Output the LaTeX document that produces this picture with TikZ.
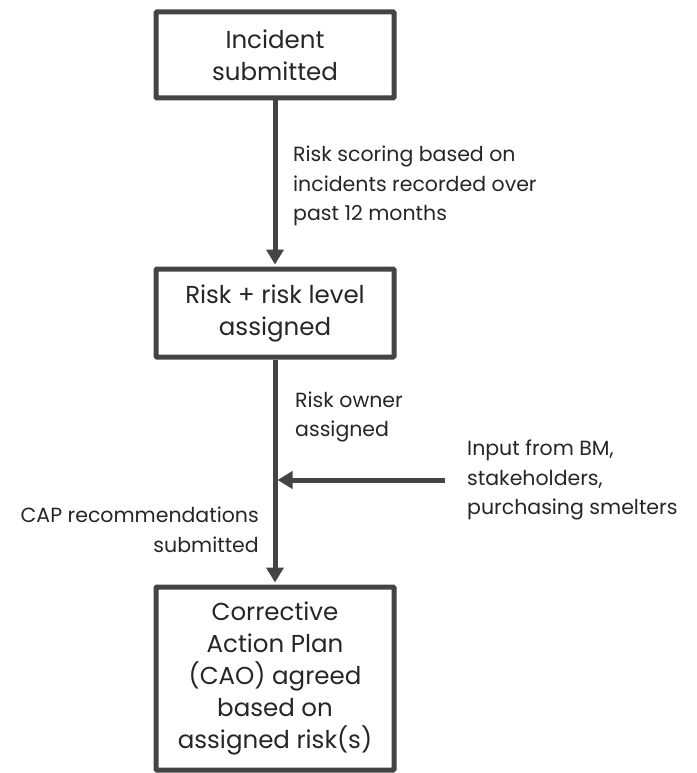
\documentclass[tikz,border=0pt]{standalone}
\usepackage{fontspec}
\setmainfont{Poppins}
\usepackage{tikz}
\usetikzlibrary{arrows.meta,positioning,calc}
\usepackage{xcolor}
\definecolor{linegray}{HTML}{444444}
\definecolor{textgray}{HTML}{262626}

\begin{document}
\begin{tikzpicture}[x=1pt, y=-1pt,
  box/.style={draw=linegray, line width=5pt, rounded corners=1pt, fill=white,
    minimum width=238pt, align=center, text=textgray,
    font=\fontsize{24.5}{32}\selectfont},
  note/.style={text=textgray, inner sep=0pt, font=\fontsize{20.5}{29.5}\selectfont},
  flow/.style={draw=linegray, line width=5pt,
    -{Triangle[width=17pt, length=15pt]}, shorten >=2pt}
]
  \useasboundingbox (0,0) rectangle (696,773);

  % Boxes
  \node[box, minimum height=86pt] (incident) at (275,55) {Incident\\submitted};
  \node[box, minimum height=88pt] (risk) at (275,313) {Risk + risk level\\assigned};
  \node[box, minimum height=183pt] (cap) at (275,678.5)
    {Corrective\\Action Plan\\(CAO) agreed\\based on\\assigned risk(s)};

  % Connectors
  \coordinate (join) at (275,480);
  \coordinate (input) at (445,480);
  \draw[flow] (incident.south) -- (risk.north);
  \draw[flow] (risk.south) -- (cap.north);
  \draw[flow, shorten >=2.5pt] (input) -- (join);

  % Labels
  \node[note, anchor=west, align=left] (scoring) at (293,186)
    {Risk scoring based on\\incidents recorded over\\past 12 months};
  \node[note, anchor=west, align=left] (owner) at (295,417) {Risk owner\\assigned};
  \node[note, anchor=west, align=left, right=22pt of input] (inputs)
    {Input from BM,\\stakeholders,\\purchasing smelters};
  \node[note, anchor=east, align=right] (capsub) at (259,530)
    {CAP recommendations\\submitted};
\end{tikzpicture}
\end{document}
